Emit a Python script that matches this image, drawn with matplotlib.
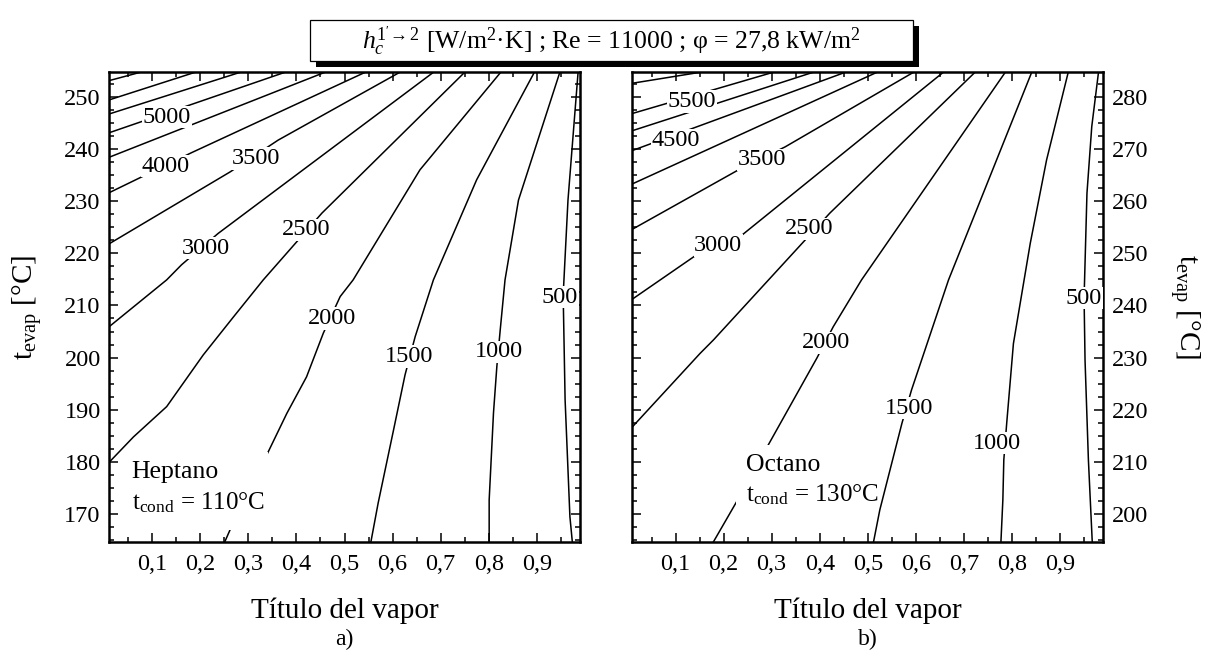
import numpy as np
import matplotlib.pyplot as plt
from matplotlib.patches import Rectangle

plt.rcParams['font.family'] = 'Liberation Serif'
plt.rcParams['mathtext.fontset'] = 'custom'
plt.rcParams['mathtext.rm'] = 'Liberation Serif'
plt.rcParams['mathtext.it'] = 'Liberation Serif:italic'

# isolíneas de h_c (W/m2K): título del vapor vs t_evap
levels_hep = [500, 1000, 1500, 2000, 2500, 3000, 3500, 4000, 4500, 5000, 5500, 6000, 6500]
x_hep = [
    [0.974, 0.969, 0.959, 0.955, 0.965, 0.986],
    [0.801, 0.801, 0.810, 0.817, 0.824, 0.834, 0.862, 0.948],
    [0.555, 0.570, 0.602, 0.626, 0.647, 0.685, 0.775, 0.895],
    [0.251, 0.262, 0.338, 0.380, 0.421, 0.456, 0.491, 0.518, 0.657, 0.825],
    [0.01, 0.061, 0.130, 0.206, 0.269, 0.331, 0.453, 0.750],
    [0.01, 0.130, 0.161, 0.237, 0.685],
    [0.01, 0.262, 0.362, 0.615],
    [0.01, 0.182, 0.543],
    [0.01, 0.459],
    [0.01, 0.376],
    [0.01, 0.283],
    [0.01, 0.189],
    [0.01, 0.075],
]
t_hep = [
    [164.7, 169.5, 191.9, 212.0, 230.2, 254.7],
    [164.7, 172.7, 189.4, 198.3, 205.3, 214.9, 230.2, 254.7],
    [164.7, 172.1, 186.1, 196.7, 204.0, 214.9, 234.1, 254.7],
    [164.7, 167.0, 181.3, 189.3, 196.3, 204.7, 211.7, 214.9, 236.0, 254.7],
    [179.9, 184.8, 190.6, 200.5, 207.8, 214.9, 227.7, 254.7],
    [205.9, 214.9, 217.8, 223.8, 254.7],
    [221.8, 235.6, 241.7, 254.7],
    [231.6, 239.3, 254.7],
    [238.4, 254.7],
    [243.1, 254.7],
    [246.7, 254.7],
    [249.4, 254.7],
    [253.1, 254.7],
]
lab_hep = [5000, 4000, 3500, 3000, 2500, 2000, 1500, 1000, 500]
lab_hep_x = [0.130, 0.128, 0.316, 0.212, 0.420, 0.473, 0.634, 0.822, 0.948]
lab_hep_t = [246.1, 236.7, 238.2, 221.0, 224.5, 207.5, 200.2, 201.1, 211.6]

levels_oct = [500, 1000, 1500, 2000, 2500, 3000, 3500, 4000, 4500, 5000, 5500, 6000]
x_oct = [
    [0.967, 0.959, 0.952, 0.950, 0.956, 0.966, 0.980],
    [0.777, 0.781, 0.783, 0.789, 0.803, 0.838, 0.872, 0.917],
    [0.512, 0.525, 0.571, 0.591, 0.668, 0.841],
    [0.179, 0.231, 0.295, 0.394, 0.428, 0.487, 0.786],
    [0.01, 0.151, 0.179, 0.421, 0.723],
    [0.01, 0.139, 0.237, 0.657],
    [0.01, 0.231, 0.328, 0.595],
    [0.01, 0.519],
    [0.01, 0.453],
    [0.01, 0.386],
    [0.01, 0.303],
    [0.01, 0.151],
]
t_oct = [
    [194.7, 210.4, 229.5, 241.4, 261.5, 274.3, 284.7],
    [194.7, 202.7, 210.4, 217.4, 232.7, 251.9, 267.9, 284.7],
    [194.7, 200.8, 217.4, 223.8, 244.9, 284.7],
    [194.7, 203.0, 213.6, 229.9, 235.9, 244.9, 284.7],
    [216.7, 230.8, 233.4, 257.7, 284.7],
    [241.2, 249.4, 253.4, 284.7],
    [254.6, 266.0, 270.4, 284.7],
    [263.3, 284.7],
    [269.7, 284.7],
    [273.5, 284.7],
    [276.8, 284.7],
    [282.6, 284.7],
]
lab_oct = [5500, 4500, 3500, 3000, 2500, 2000, 1500, 1000, 500]
lab_oct_x = [0.134, 0.101, 0.279, 0.189, 0.378, 0.413, 0.586, 0.769, 0.950]
lab_oct_t = [279.1, 271.7, 267.9, 251.5, 254.7, 232.8, 220.3, 213.6, 241.4]

xticks = [0.1, 0.2, 0.3, 0.4, 0.5, 0.6, 0.7, 0.8, 0.9]
xtick_labels = ['0,1', '0,2', '0,3', '0,4', '0,5', '0,6', '0,7', '0,8', '0,9']
yticks_hep = [170, 180, 190, 200, 210, 220, 230, 240, 250]
yticks_oct = [200, 210, 220, 230, 240, 250, 260, 270, 280]


def panel(ax, xs, ts, labs, lx, lt, ylim, yticks, fluido, tcond, letra, caja, xt, yt):
    for x, t in zip(xs, ts):
        ax.plot(x, t, color='black', lw=1.1)
    for v, x, t in zip(labs, lx, lt):
        ax.text(x, t, str(v), ha='center', va='center', fontsize=17.5, zorder=4,
                bbox=dict(fc='white', ec='none', pad=0.6))
    # fondo blanco del rótulo del fluido
    ax.add_patch(Rectangle((caja[0], caja[1]), caja[2] - caja[0], caja[3] - caja[1],
                           transform=ax.transAxes, fc='white', ec='none', zorder=3))
    ax.text(xt, yt[0], fluido, transform=ax.transAxes, fontsize=18.5,
            va='baseline', ha='left', zorder=4)
    ax.text(xt, yt[1], r't$_\mathrm{cond}$ = ' + tcond, transform=ax.transAxes,
            fontsize=18, va='baseline', ha='left', zorder=4)
    ax.set_xlim(0.01, 0.99)
    ax.set_ylim(*ylim)
    ax.set_xticks(xticks)
    ax.set_xticklabels(xtick_labels)
    ax.set_xticks(np.arange(0.05, 1.0, 0.1), minor=True)
    ax.set_yticks(yticks)
    ax.set_yticks(np.arange(yticks[0] - 5, ylim[1], 2.5), minor=True)
    ax.tick_params(which='both', direction='in', top=True, right=True, left=True,
                   labelsize=17.5, width=1.1)
    ax.tick_params(which='major', length=6.5)
    ax.tick_params(which='minor', length=3.6)
    ax.tick_params(axis='x', pad=9)
    ax.tick_params(axis='y', pad=6)
    for s in ax.spines.values():
        s.set_linewidth(1.8)
    ax.set_xlabel('Título del vapor', fontsize=21)
    ax.xaxis.set_label_coords(0.5, -0.118)
    ax.text(0.5, -0.209, letra, transform=ax.transAxes, ha='center', va='center', fontsize=17)


fig = plt.figure(figsize=(12.16, 6.55), dpi=100)
ax1 = fig.add_axes([109 / 1216, 1 - 541.7 / 655, 471 / 1216, 469.4 / 655])
ax2 = fig.add_axes([632.3 / 1216, 1 - 541.7 / 655, 471 / 1216, 469.4 / 655])

panel(ax1, x_hep, t_hep, lab_hep, lab_hep_x, lab_hep_t, (164.7, 254.7), yticks_hep,
      'Heptano', '110°C', 'a)', (0.032, 0.025, 0.338, 0.191), 0.048, (0.136, 0.068))
panel(ax2, x_oct, t_oct, lab_oct, lab_oct_x, lab_oct_t, (194.7, 284.7), yticks_oct,
      'Octano', '130°C', 'b)', (0.2195, 0.042, 0.516, 0.206), 0.2414, (0.151, 0.085))

ax1.set_ylabel(r't$_\mathrm{evap}$ [°C]', fontsize=21)
ax1.yaxis.set_label_coords(-0.138, 0.5)
ax2.tick_params(axis='y', labelleft=False, labelright=True)
ax2.yaxis.set_label_position('right')
ax2.set_ylabel(r't$_\mathrm{evap}$ [°C]', fontsize=21, rotation=-90, va='bottom')
ax2.yaxis.set_label_coords(1.137, 0.5)

# recuadro del título con sombra
bx, by, bw, bh = 310 / 1216, 1 - 61 / 655, 603 / 1216, 41 / 655
fig.add_artist(Rectangle((bx + 6 / 1216, by - 6 / 655), bw, bh, transform=fig.transFigure,
                         fc='black', ec='black', lw=0))
fig.add_artist(Rectangle((bx, by), bw, bh, transform=fig.transFigure,
                         fc='white', ec='black', lw=0.9))
fig.text(bx + bw / 2, by + bh / 2,
         r"$h_c^{1'\!\rightarrow 2}$ [W/m$^2$·K] ; Re = 11000 ; φ = 27,8 kW/m$^2$",
         ha='center', va='center', fontsize=18.5)

fig.savefig('out.png', dpi=100)
